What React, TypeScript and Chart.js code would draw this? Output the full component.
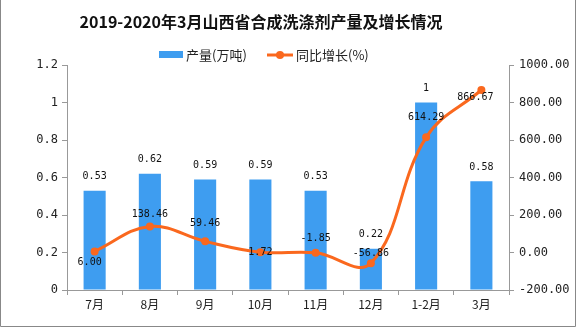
import React, { useEffect, useRef } from 'react';
import { Chart, registerables } from 'chart.js';

Chart.register(...registerables);

const title = '2019-2020年3月山西省合成洗涤剂产量及增长情况';
const categories = ['7月', '8月', '9月', '10月', '11月', '12月', '1-2月', '3月'];
const productionLabel = '产量(万吨)';
const production = [0.53, 0.62, 0.59, 0.59, 0.53, 0.22, 1, 0.58];
const growthLabel = '同比增长(%)';
const growth = [6.0, 138.46, 59.46, 1.72, -1.85, -56.86, 614.29, 866.67];
const leftTicks = [0, 0.2, 0.4, 0.6, 0.8, 1, 1.2];
const rightTicks = [-200, 0, 200, 400, 600, 800, 1000];
// label placement (style): [dx, dy] in px relative to each line point
const growthLabelOffsets: [number, number][] = [
  [-5, 11], [0, -12], [0, -18], [0, 0], [0, -14], [0, -10], [0, -20], [-6, 7],
];

const BLUE = 'rgb(62,157,240)';
const ORANGE = 'rgb(250,104,30)';
const AXIS = '#999';
const MONO = '"DejaVu Sans Mono", monospace';
const CJK = '"Noto Sans CJK SC", "Noto Sans", sans-serif';

export default function App() {
  const ref = useRef<HTMLCanvasElement>(null);

  useEffect(() => {
    const canvas = ref.current;
    if (!canvas) return;

    const decor = {
      id: 'decor',
      afterDraw(chart: any) {
        const ctx = chart.ctx;
        ctx.save();
        // title
        ctx.fillStyle = '#111';
        ctx.font = `bold 16px ${CJK}`;
        ctx.textAlign = 'center';
        ctx.textBaseline = 'middle';
        ctx.fillText(title, 261, 22);
        // legend
        ctx.font = `13px ${CJK}`;
        ctx.textAlign = 'left';
        ctx.fillStyle = BLUE;
        ctx.fillRect(159, 51, 24, 7);
        ctx.fillStyle = '#222';
        ctx.fillText(productionLabel, 186, 55);
        ctx.strokeStyle = ORANGE;
        ctx.lineWidth = 3;
        ctx.beginPath();
        ctx.moveTo(267, 55);
        ctx.lineTo(293, 55);
        ctx.stroke();
        ctx.fillStyle = ORANGE;
        ctx.beginPath();
        ctx.arc(280, 55, 4, 0, Math.PI * 2);
        ctx.fill();
        ctx.fillStyle = '#222';
        ctx.fillText(growthLabel, 296, 55);
        // frame
        ctx.strokeStyle = '#888';
        ctx.lineWidth = 1;
        ctx.beginPath();
        ctx.moveTo(0.5, 0);
        ctx.lineTo(0.5, 326.5);
        ctx.lineTo(575.5, 326.5);
        ctx.lineTo(575.5, 0);
        ctx.stroke();
        ctx.restore();
      },
      afterDatasetsDraw(chart: any) {
        const ctx = chart.ctx;
        ctx.save();
        ctx.fillStyle = '#111';
        ctx.font = `10px ${MONO}`;
        ctx.textAlign = 'center';
        ctx.textBaseline = 'middle';
        const barMeta = chart.getDatasetMeta(0);
        barMeta.data.forEach((el: any, i: number) => {
          ctx.fillText(String(production[i]), el.x, el.y - 14);
        });
        const lineMeta = chart.getDatasetMeta(1);
        lineMeta.data.forEach((el: any, i: number) => {
          const [dx, dy] = growthLabelOffsets[i];
          ctx.fillText(growth[i].toFixed(2), el.x + dx, el.y + dy);
        });
        ctx.restore();
      },
    };

    const chart = new Chart(canvas, {
      type: 'bar',
      data: {
        labels: categories,
        datasets: [
          {
            type: 'bar',
            label: productionLabel,
            data: production,
            backgroundColor: BLUE,
            yAxisID: 'y',
            barPercentage: 0.4,
            categoryPercentage: 1,
            order: 2,
          },
          {
            type: 'line',
            label: growthLabel,
            data: growth,
            borderColor: ORANGE,
            backgroundColor: ORANGE,
            borderWidth: 3,
            pointRadius: 4,
            pointBackgroundColor: ORANGE,
            pointBorderWidth: 0,
            tension: 0.4,
            yAxisID: 'y1',
            order: 1,
            clip: false as any,
          },
        ],
      },
      options: {
        responsive: false,
        animation: false,
        devicePixelRatio: 1,
        layout: { padding: { top: 65, left: 0, right: 0, bottom: 0 } },
        plugins: {
          legend: { display: false },
          title: { display: false },
          tooltip: { enabled: false },
        },
        scales: {
          x: {
            grid: {
              offset: true,
              drawOnChartArea: false,
              drawTicks: true,
              tickLength: 5,
              color: AXIS,
            },
            border: { color: AXIS },
            ticks: { color: '#222', font: { size: 12, family: CJK }, padding: 2 },
            afterFit: (s: any) => {
              s.height = 37;
            },
          },
          y: {
            position: 'left',
            min: 0,
            max: 1.2,
            afterBuildTicks: (s: any) => {
              s.ticks = leftTicks.map((v) => ({ value: v }));
            },
            ticks: {
              color: '#222',
              font: { size: 12, family: MONO },
              padding: 4,
              callback: (v: any) => String(Math.round(Number(v) * 10) / 10),
            },
            grid: { drawOnChartArea: false, tickLength: 5, color: AXIS },
            border: { color: AXIS },
            afterFit: (s: any) => {
              s.width = 67;
            },
          },
          y1: {
            position: 'right',
            min: -200,
            max: 1000,
            afterBuildTicks: (s: any) => {
              s.ticks = rightTicks.map((v) => ({ value: v }));
            },
            ticks: {
              color: '#222',
              font: { size: 12, family: MONO },
              padding: 5,
              callback: (v: any) => Number(v).toFixed(2),
            },
            grid: { drawOnChartArea: false, tickLength: 5, color: AXIS },
            border: { color: AXIS },
            afterFit: (s: any) => {
              s.width = 67;
            },
          },
        },
      },
      plugins: [decor],
    } as any);

    return () => chart.destroy();
  }, []);

  return (
    <div style={{ position: 'absolute', left: 0, top: 0, width: 576, height: 327, background: '#fff' }}>
      <canvas ref={ref} width={576} height={327} style={{ display: 'block' }} />
    </div>
  );
}
